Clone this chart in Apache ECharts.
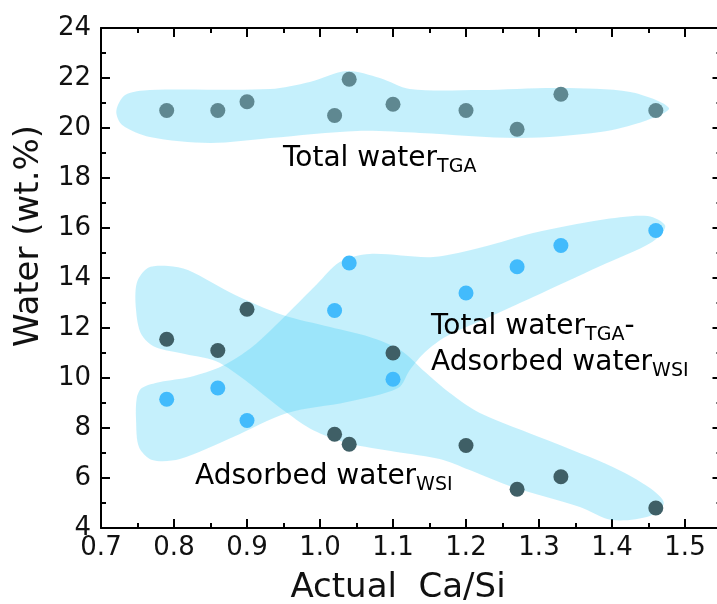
<!DOCTYPE html>
<html>
<head>
<meta charset="utf-8">
<script src="https://cdn.jsdelivr.net/npm/echarts@6/dist/echarts.min.js"></script>
<style>
  html, body { margin: 0; padding: 0; background: #fff; }
  #chart { width: 717px; height: 604px; }
</style>
</head>
<body>
<div id="chart"></div>
<script>
// values
const caSi = [0.79, 0.86, 0.9, 1.02, 1.04, 1.1, 1.2, 1.27, 1.33, 1.46];
const totalWaterTGA = [20.7, 20.7, 21.05, 20.5, 21.95, 20.95, 20.7, 19.95, 21.35, 20.7];
const adsorbedWSI = [11.55, 11.1, 12.75, 7.75, 7.35, 11.0, 7.3, 5.55, 6.05, 4.8];
const totalMinusAdsorbed = [9.15, 9.6, 8.3, 12.7, 14.6, 9.95, 13.4, 14.45, 15.3, 15.9];

const xRange = [0.7, 1.55];
const yRange = [4, 24];

// shaded bands, outlines in data units (Ca/Si, wt.%)
const bandTotal = [
  [0.721, 20.68], [0.733, 21.32], [0.767, 21.52], [0.932, 21.56], [0.986, 21.84],
  [1.037, 22.28], [1.082, 22.0], [1.123, 21.56], [1.219, 21.52], [1.329, 21.6],
  [1.425, 21.44], [1.478, 20.8], [1.445, 20.28], [1.384, 19.84], [1.274, 19.6],
  [1.137, 19.8], [1.051, 19.88], [0.932, 19.6], [0.849, 19.4], [0.767, 19.64],
  [0.729, 20.12]
];
const bandAdsorbed = [
  [0.764, 14.4], [0.792, 14.48], [0.819, 14.32], [0.881, 13.36], [0.949, 12.52],
  [1.014, 12.04], [1.068, 11.64], [1.110, 11.12], [1.144, 10.24], [1.178, 9.4],
  [1.219, 8.6], [1.311, 7.52], [1.401, 6.44], [1.452, 5.6], [1.471, 5.0],
  [1.452, 4.48], [1.4, 4.32], [1.356, 4.84], [1.264, 5.64], [1.205, 6.32],
  [1.164, 6.76], [1.105, 7.04], [1.037, 7.4], [0.99, 7.92], [0.955, 8.6],
  [0.863, 10.6], [0.815, 10.96], [0.774, 11.24], [0.755, 11.76], [0.748, 12.72],
  [0.749, 13.8]
];
const bandDiff = [
  [0.756, 9.6], [0.781, 9.84], [0.822, 10.04], [0.866, 10.48], [0.907, 11.24],
  [0.955, 12.56], [0.996, 13.76], [1.027, 14.64], [1.068, 14.96], [1.155, 14.84],
  [1.223, 15.24], [1.292, 15.8], [1.384, 16.32], [1.449, 16.48], [1.473, 16.08],
  [1.455, 15.44], [1.384, 14.48], [1.292, 13.24], [1.229, 12.4], [1.174, 11.68],
  [1.144, 11.04], [1.123, 10.32], [1.107, 9.6], [1.037, 9.04], [0.955, 8.6],
  [0.881, 7.64], [0.808, 6.76], [0.77, 6.72], [0.752, 7.24], [0.748, 8.32],
  [0.749, 9.2]
];

function pairs(ys) {
  return caSi.map((x, i) => [x, ys[i]]);
}

function band(outline) {
  return {
    type: 'custom',
    silent: true,
    z: 1,
    data: [outline[0]],
    renderItem: function (params, api) {
      return {
        type: 'polygon',
        shape: { points: outline.map(p => api.coord(p)), smooth: 0.3 },
        style: { fill: 'rgba(62,206,245,0.3)' }
      };
    }
  };
}

function dots(ys, color) {
  return {
    type: 'scatter',
    z: 2,
    symbolSize: 15,
    itemStyle: { color: color, opacity: 1 },
    data: pairs(ys)
  };
}

const axisLine = { onZero: false, lineStyle: { color: '#000', width: 2 } };
const tickStyle = { color: '#000', width: 2 };
const labelFont = { fontFamily: 'DejaVu Sans', fontSize: 26, color: '#111' };

function xAxis(pos, showLabel) {
  return {
    type: 'value', position: pos, min: xRange[0], max: xRange[1], interval: 0.1,
    axisLine: axisLine,
    axisTick: { inside: true, length: 9, lineStyle: tickStyle },
    minorTick: { show: true, splitNumber: 2, length: 5, lineStyle: tickStyle },
    splitLine: { show: false },
    axisLabel: Object.assign({
      show: showLabel, margin: 7, showMaxLabel: false,
      formatter: v => (v > 1.51 ? '' : v.toFixed(1))
    }, labelFont)
  };
}

function yAxis(pos, showLabel) {
  return {
    type: 'value', position: pos, min: yRange[0], max: yRange[1], interval: 2,
    axisLine: axisLine,
    axisTick: { inside: true, length: 9, lineStyle: tickStyle },
    minorTick: { show: true, splitNumber: 2, length: 5, lineStyle: tickStyle },
    splitLine: { show: false },
    axisLabel: Object.assign({ show: showLabel, margin: 10 }, labelFont)
  };
}

const mainText = { fontFamily: 'DejaVu Sans', fontSize: 28, lineHeight: 36, color: '#111' };
const subText = { fontFamily: 'DejaVu Sans', fontSize: 19, lineHeight: 18, verticalAlign: 'bottom', color: '#111' };

function note(x, y, text) {
  return {
    type: 'text', x: x, y: y, z: 10,
    style: { text: text, align: 'left', verticalAlign: 'top', rich: { a: mainText, s: subText } }
  };
}

const chart = echarts.init(document.getElementById('chart'), null, { renderer: 'canvas' });
chart.setOption({
  animation: false,
  backgroundColor: '#fff',
  grid: { left: 101, top: 28, width: 620.5, height: 500, outerBoundsMode: 'none', containLabel: false },
  xAxis: [xAxis('bottom', true), xAxis('top', false)],
  yAxis: [yAxis('left', true), yAxis('right', false)],
  series: [
    band(bandTotal),
    band(bandAdsorbed),
    band(bandDiff),
    dots(totalWaterTGA, '#5f8891'),
    dots(adsorbedWSI, '#3f5f66'),
    dots(totalMinusAdsorbed, '#42bbfc')
  ],
  graphic: [
    note(283, 141, '{a|Total water}{s|TGA}'),
    note(431, 309, '{a|Total water}{s|TGA}{a|-}\n{a|Adsorbed water}{s|WSI}'),
    note(195, 459, '{a|Adsorbed water}{s|WSI}'),
    {
      type: 'text', x: 398, y: 588, z: 10,
      style: { text: 'Actual  Ca/Si', fontFamily: 'DejaVu Sans', fontSize: 34, fill: '#111', align: 'center', verticalAlign: 'middle' }
    },
    {
      type: 'text', x: 29, y: 236, z: 10, rotation: Math.PI / 2,
      style: { text: 'Water (wt.%)', fontFamily: 'DejaVu Sans', fontSize: 34, fill: '#111', align: 'center', verticalAlign: 'middle' }
    }
  ]
});
</script>
</body>
</html>
